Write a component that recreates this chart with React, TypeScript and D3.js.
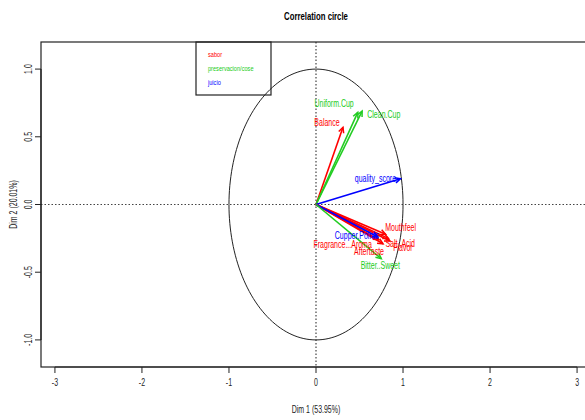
import React from 'react'
import * as d3 from 'd3'

// variables of the correlation circle (coordinates on Dim 1 / Dim 2)
const variables = ['Balance', 'Uniform.Cup', 'Clean.Cup', 'quality_score', 'Mouthfeel', 'Salt..Acid', 'Flavor', 'Aftertaste', 'Fragrance...Aroma', 'Cupper.Points', 'Bitter..Sweet']
const groupOf = ['sabor', 'preservacion/cose', 'preservacion/cose', 'juicio', 'sabor', 'sabor', 'sabor', 'sabor', 'sabor', 'juicio', 'preservacion/cose']
const dim1 = [0.31, 0.53, 0.48, 0.97, 0.80, 0.83, 0.85, 0.77, 0.72, 0.71, 0.75]
const dim2 = [0.57, 0.69, 0.68, 0.19, -0.22, -0.25, -0.27, -0.29, -0.26, -0.24, -0.40]

const groups = ['sabor', 'preservacion/cose', 'juicio']
const groupColors = ['#ff0000', '#22cc22', '#0000ff']

const xTicks = [-3, -2, -1, 0, 1, 2, 3]
const yTicks = [-1, -0.5, 0, 0.5, 1]

// label nudges in px (like autoLab in FactoMineR)
const labelNudge: [number, number][] = [
  [-16, -5], [-28, -8], [26, 2], [-25, 0], [15, -7], [12, 5], [13, 6], [-14, 8], [-36, 5], [-21, -2], [-1, 7],
]

const W = 585
const H = 420
const margin = { left: 41, top: 42, bottom: 53 }

const fmtY = (v: number) => v.toFixed(1)

const Txt = ({ x, y, children, size = 10, fill = '#000', rotate = 0, anchor = 'middle', weight = 'normal', sx = 0.7 }: any) => (
  <text
    transform={`translate(${x},${y}) rotate(${rotate}) scale(${sx},1)`}
    fontSize={size}
    fill={fill}
    textAnchor={anchor}
    fontWeight={weight}
    fontFamily="Liberation Sans, Arial, sans-serif"
  >
    {children}
  </text>
)

export default function App() {
  const x = d3.scaleLinear().domain([-3.16, 3.16]).range([margin.left, 591])
  const y = d3.scaleLinear().domain([-1.2, 1.2]).range([H - margin.bottom, margin.top])
  const color = d3.scaleOrdinal<string, string>().domain(groups).range(groupColors)

  const circle = d3.range(0, 361, 2).map((a) => [Math.cos((a * Math.PI) / 180), Math.sin((a * Math.PI) / 180)] as [number, number])
  const circlePath = d3.line().x((d) => x(d[0])).y((d) => y(d[1]))(circle) || ''

  const x0 = x(0)
  const y0 = y(0)
  const bottom = y(-1.2)
  const top = y(1.2)

  const arrowHead = (px: number, py: number) => {
    const ang = Math.atan2(py - y0, px - x0)
    const len = 6
    const spread = Math.PI / 7
    const a1 = [px - len * Math.cos(ang - spread), py - len * Math.sin(ang - spread)]
    const a2 = [px - len * Math.cos(ang + spread), py - len * Math.sin(ang + spread)]
    return `M${a1[0]},${a1[1]}L${px},${py}L${a2[0]},${a2[1]}`
  }

  return (
    <svg width={W} height={H} style={{ position: 'absolute', left: 0, top: 0, background: '#fff' }}>
      <Txt x={316} y={20} size={10.5} weight="bold" sx={0.74}>Correlation circle</Txt>

      {/* dashed reference lines */}
      <line x1={x0} x2={x0} y1={top} y2={bottom} stroke="#444" strokeDasharray="1.5,2" strokeWidth={1.2} />
      <line x1={margin.left} x2={W} y1={y0} y2={y0} stroke="#444" strokeDasharray="1.5,2" strokeWidth={1.2} />

      <path d={circlePath} fill="none" stroke="#222" strokeWidth={1} />

      {/* arrows */}
      {variables.map((v, i) => {
        const px = x(dim1[i])
        const py = y(dim2[i])
        const c = color(groupOf[i])
        return (
          <g key={v}>
            <line x1={x0} y1={y0} x2={px} y2={py} stroke={c} strokeWidth={1.6} />
            <path d={arrowHead(px, py)} fill="none" stroke={c} strokeWidth={1.5} />
          </g>
        )
      })}
      {variables.map((v, i) => (
        <Txt key={v} x={x(dim1[i]) + labelNudge[i][0]} y={y(dim2[i]) + labelNudge[i][1] + 3.5} fill={color(groupOf[i])}>
          {v}
        </Txt>
      ))}

      {/* plot box */}
      <rect x={margin.left} y={top} width={W} height={bottom - top} fill="none" stroke="#222" strokeWidth={1.2} />

      {/* legend */}
      <rect x={196} y={top} width={75} height={53} fill="none" stroke="#222" strokeWidth={1.2} />
      {groups.map((g, i) => (
        <Txt key={g} x={208} y={57 + i * 14} size={7.5} anchor="start" fill={color(g)} sx={0.75}>
          {g}
        </Txt>
      ))}

      {/* x axis */}
      <line x1={x(-3)} x2={x(3)} y1={bottom} y2={bottom} stroke="#222" strokeWidth={1.2} />
      {xTicks.map((t) => (
        <g key={t}>
          <line x1={x(t)} x2={x(t)} y1={bottom} y2={bottom + 6} stroke="#222" />
          <Txt x={x(t)} y={bottom + 19} fill="#222">{t}</Txt>
        </g>
      ))}
      <Txt x={316} y={413} fill="#222">Dim 1 (53.95%)</Txt>

      {/* y axis */}
      <line x1={margin.left} x2={margin.left} y1={y(-1)} y2={y(1)} stroke="#222" strokeWidth={1.2} />
      {yTicks.map((t) => (
        <g key={t}>
          <line x1={margin.left - 6} x2={margin.left} y1={y(t)} y2={y(t)} stroke="#222" />
          <Txt x={margin.left - 9} y={y(t)} rotate={-90} fill="#222">{fmtY(t)}</Txt>
        </g>
      ))}
      <Txt x={17} y={y0} rotate={-90} fill="#222">Dim 2 (20.01%)</Txt>
    </svg>
  )
}
